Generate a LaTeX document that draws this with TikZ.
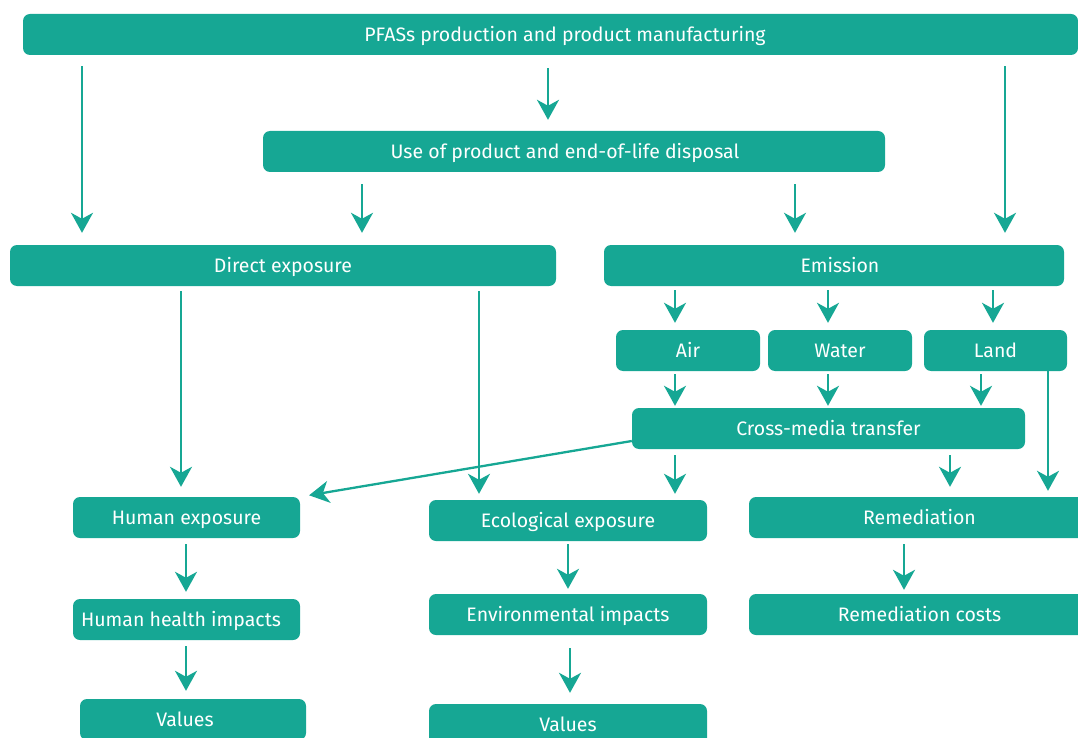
\documentclass[tikz,border=0pt]{standalone}
\usepackage{fontspec}
\setmainfont{Fira Sans}
\usetikzlibrary{arrows.meta}
\definecolor{teal1}{RGB}{22,167,148}
\begin{document}
\begin{tikzpicture}[x=1pt,y=-1pt,
  box/.style={fill=teal1, rounded corners=7pt, text=white, font=\fontsize{19.5}{22}\selectfont, inner sep=0pt, minimum height=41pt, text height=13.4pt, text depth=0pt},
  arr/.style={draw=teal1, line width=2.3pt, -{Stealth[length=20pt,width=22pt,inset=6pt]}},
]
\useasboundingbox (0,0) rectangle (1078,738);
\clip (0,0) rectangle (1078,738);
\node[box, minimum width=1055pt] (top) at (550.5,34.5) {\hspace*{29pt}PFASs production and product manufacturing};
\node[box, minimum width=622pt] (use) at (574,151.5) {Use of product and end-of-life disposal\hspace*{18pt}};
\node[box, minimum width=546pt] (direct) at (283,265.5) {Direct exposure};
\node[box, minimum width=460pt] (emis) at (834,265.5) {\hspace*{12pt}Emission};
\node[box, minimum width=144pt] (air) at (688,350.5) {Air};
\node[box, minimum width=144pt] (water) at (840,350.5) {Water};
\node[box, minimum width=143pt] (land) at (995.5,350.5) {Land};
\node[box, minimum width=393pt] (cross) at (828.5,428.5) {Cross-media transfer};
\node[box, minimum width=227pt] (hexp) at (186.5,517.5) {Human exposure};
\node[box, minimum width=278pt] (eexp) at (568,520.5) {Ecological exposure};
\node[box, minimum width=341pt] (rem) at (919.5,517.5) {Remediation};
\node[box, minimum width=227pt] (hhi) at (186.5,619.5) {Human health impacts\hspace*{11pt}};
\node[box, minimum width=278pt] (env) at (568,614.5) {Environmental impacts};
\node[box, minimum width=341pt] (remc) at (919.5,614.5) {Remediation costs};
\node[box, minimum width=226pt] (val1) at (193,719.5) {Values\hspace*{16pt}};
\node[box, minimum width=278pt] (val2) at (568,724.5) {Values};

\draw[arr, shorten <=11pt, shorten >=12pt] (top.south -| 82,0) -- (direct.north -| 82,0);
\draw[arr, shorten <=13pt, shorten >=11pt] (top.south -| 548,0) -- (use.north -| 548,0);
\draw[arr, shorten <=11pt, shorten >=12pt] (top.south -| 1005,0) -- (emis.north -| 1005,0);
\draw[arr, shorten <=12pt, shorten >=12pt] (use.south -| 362,0) -- (direct.north -| 362,0);
\draw[arr, shorten <=12pt, shorten >=12pt] (use.south -| 795,0) -- (emis.north -| 795,0);
\draw[arr, shorten <=5pt, shorten >=10pt] (direct.south -| 181,0) -- (hexp.north -| 181,0);
\draw[arr, shorten <=5pt, shorten >=6pt] (direct.south -| 479,0) -- (eexp.north -| 479,0);
\draw[arr, shorten <=4pt, shorten >=7pt] (emis.south -| 675,0) -- (air.north -| 675,0);
\draw[arr, shorten <=4pt, shorten >=7pt] (emis.south -| 828,0) -- (water.north -| 828,0);
\draw[arr, shorten <=4pt, shorten >=7pt] (emis.south -| 993,0) -- (land.north -| 993,0);
\draw[arr, shorten <=3pt, shorten >=2pt] (air.south -| 675,0) -- (cross.north -| 675,0);
\draw[arr, shorten <=3pt, shorten >=2pt] (water.south -| 828,0) -- (cross.north -| 828,0);
\draw[arr, shorten <=3pt, shorten >=2pt] (land.south -| 981,0) -- (cross.north -| 981,0);
\draw[arr, shorten >=6pt] (land.south -| 1048,0) -- (rem.north -| 1048,0);
\draw[arr, shorten >=9pt] ([yshift=-12.5pt]cross.west) -- (hexp.north east);
\draw[arr, shorten <=6pt, shorten >=6pt] (cross.south -| 675,0) -- (eexp.north -| 675,0);
\draw[arr, shorten <=6pt, shorten >=10pt] (cross.south -| 950,0) -- (rem.north -| 950,0);
\draw[arr, shorten <=6pt, shorten >=7pt] (hexp.south -| 186,0) -- (hhi.north -| 186,0);
\draw[arr, shorten <=6pt, shorten >=8pt] (hhi.south -| 186,0) -- (val1.north -| 186,0);
\draw[arr, shorten <=3pt, shorten >=5pt] (eexp.south -| 568,0) -- (env.north -| 568,0);
\draw[arr, shorten <=13pt, shorten >=11pt] (env.south -| 570,0) -- (val2.north -| 570,0);
\draw[arr, shorten <=6pt, shorten >=4pt] (rem.south -| 904,0) -- (remc.north -| 904,0);
\end{tikzpicture}
\end{document}
